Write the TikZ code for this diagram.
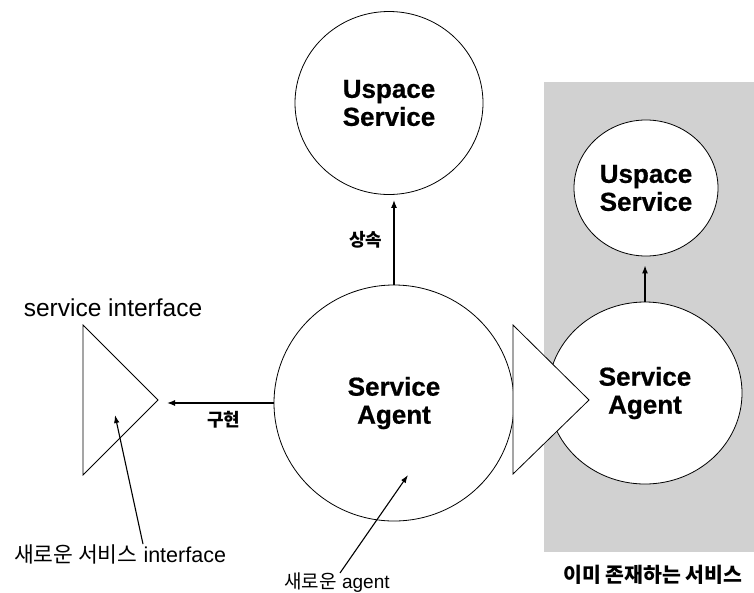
\documentclass[tikz,border=0pt]{standalone}
\usepackage{fontspec}
\setmainfont{Liberation Sans}[BoldFeatures={FakeBold=0.6}]
\newfontfamily\kr{Noto Sans CJK KR}
\usetikzlibrary{shapes.geometric,arrows.meta}
\tikzset{
  bubble/.style={ellipse,draw=black,line width=0.8pt,fill=white,inner sep=0pt,align=center,
    font=\bfseries\fontsize{26}{28}\selectfont},
  iface/.style={draw=black,line width=0.8pt,fill=white},
  conn/.style={line width=1.3pt,-{Latex[length=8pt,width=6pt]}},
  ptr/.style={line width=1.1pt,-{Latex[length=8pt,width=5.5pt]}},
  lbl/.style={inner sep=0pt,text=black},
}
\begin{document}
\begin{tikzpicture}[x=1pt,y=-1pt]
\useasboundingbox (0,0) rectangle (754,592);
% existing-service region
\fill[black!18] (544,82) rectangle (754,552);
% new service (left)
\node[bubble,minimum width=188pt,minimum height=183pt] (usvc) at (389,103) {Uspace\\Service};
\node[bubble,minimum width=240pt,minimum height=236pt] (agent) at (394,403) {Service\\Agent};
% existing service (right)
\node[bubble,minimum width=144pt,minimum height=136pt] (rsvc) at (646,188) {Uspace\\Service};
\node[bubble,minimum width=194pt,minimum height=182pt] (ragent) at (645,393) {Service\\Agent};
% interface triangles
\coordinate (ltip) at (158,400);
\draw[iface] (83,325) -- (ltip) -- (83,475) -- cycle;
\coordinate (rtip) at (589,400);
\draw[iface] (513,325) -- (rtip) -- (513,474) -- cycle;
% connectors
\draw[conn,shorten >=5pt] (agent.north) -- (agent.north |- usvc.south)
  node[lbl,pos=0.5,left=11pt,font=\kr\bfseries\fontsize{18}{20}\selectfont] (inh) {상속};
\draw[conn,shorten >=9pt] (agent.west) -- (agent.west -| ltip)
  node[lbl,pos=0.43,below=8pt,font=\kr\bfseries\fontsize{18}{20}\selectfont] (impl) {구현};
\draw[conn,shorten >=9pt] (ragent.north) -- (ragent.north |- rsvc.south);
% texts
\node[lbl,font=\fontsize{24.5}{28}\selectfont] (sitxt) at (113,308) {service interface};
\node[lbl,font=\fontsize{21.5}{24}\selectfont] (newif) at (120,554) {{\kr 새로운 서비스} interface};
\node[lbl,font=\fontsize{19}{22}\selectfont] (newag) at (337,583) {{\kr 새로운} agent};
\node[lbl,font=\kr\bfseries\fontsize{20.5}{24}\selectfont] (exist) at (653,575) {이미 존재하는 서비스};
% pointers
\coordinate (p1) at (115,415);
\draw[ptr] ([xshift=23pt]newif.north) -- (p1);
\coordinate (p2) at (408,475);
\draw[ptr] ([xshift=3pt]newag.north) -- (p2);
\end{tikzpicture}
\end{document}
